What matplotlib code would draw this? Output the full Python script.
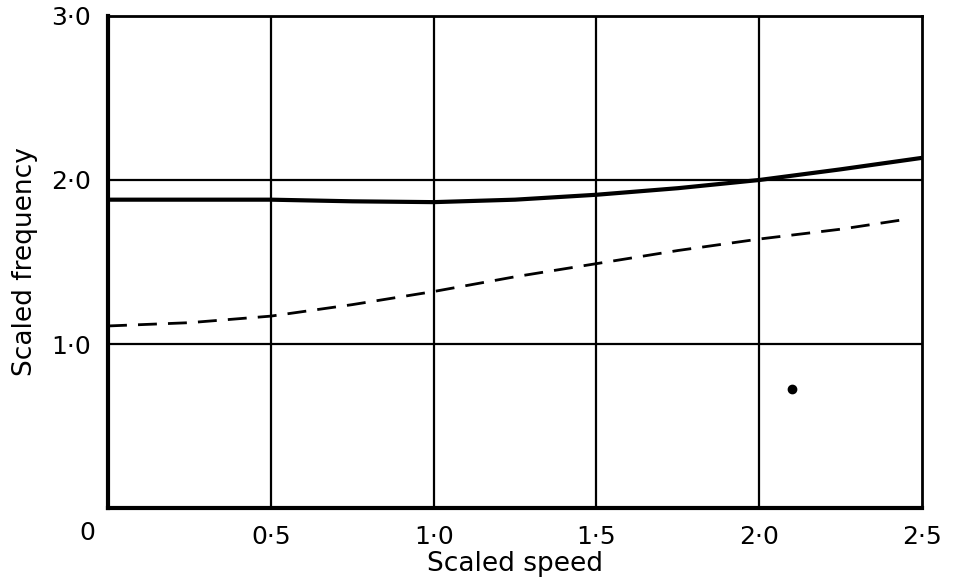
import matplotlib
matplotlib.use("Agg")
import matplotlib.pyplot as plt

# solid curve (scaled frequency vs scaled speed)
solid_x = [0.0, 0.25, 0.5, 0.75, 1.0, 1.25, 1.5, 1.75, 2.0, 2.25, 2.5]
solid_y = [1.88, 1.88, 1.88, 1.87, 1.865, 1.88, 1.91, 1.95, 2.0, 2.065, 2.135]

# dashed curve
dash_x = [0.0, 0.25, 0.5, 0.75, 1.0, 1.25, 1.5, 1.75, 2.0, 2.25, 2.45]
dash_y = [1.11, 1.13, 1.17, 1.24, 1.32, 1.41, 1.49, 1.57, 1.64, 1.70, 1.76]

# single point
pt_x = [2.1]
pt_y = [0.725]

x_ticks = [0.5, 1.0, 1.5, 2.0, 2.5]
x_labels = ["0·5", "1·0", "1·5", "2·0", "2·5"]
y_ticks = [1.0, 2.0, 3.0]
y_labels = ["1·0", "2·0", "3·0"]

plt.rcParams["font.family"] = ["DejaVu Sans"]

fig = plt.figure(figsize=(9.62, 5.79), dpi=100)
ax = fig.add_axes([0.1123, 0.1226, 0.8462, 0.8498])

# grid
for gx in [0.5, 1.0, 1.5, 2.0]:
    ax.axvline(gx, color="black", linewidth=1.6, zorder=1)
for gy in [1.0, 2.0]:
    ax.axhline(gy, color="black", linewidth=1.6, zorder=1)

ax.plot(solid_x, solid_y, color="black", linewidth=3.0, solid_capstyle="butt", zorder=3)
ax.plot(dash_x, dash_y, color="black", linewidth=2.0, dashes=(6.8, 4), zorder=3)
ax.plot(pt_x, pt_y, "o", color="black", markersize=6, zorder=3)

ax.set_xlim(0, 2.5)
ax.set_ylim(0, 3.0)

ax.set_xticks(x_ticks)
ax.set_xticklabels(x_labels, fontsize=18)
ax.set_yticks(y_ticks)
ax.set_yticklabels(y_labels, fontsize=18)
ax.tick_params(length=0, pad=12)

# origin label shared by both axes
ax.text(-0.065, -0.15, "0", fontsize=18, ha="center", va="center",
        transform=ax.transData, clip_on=False)

ax.set_xlabel("Scaled speed", fontsize=19, labelpad=2)
ax.set_ylabel("Scaled frequency", fontsize=19, labelpad=10)

for side in ["left", "bottom"]:
    ax.spines[side].set_linewidth(3.0)
for side in ["top", "right"]:
    ax.spines[side].set_linewidth(2.0)

fig.savefig("out.png", dpi=100)
